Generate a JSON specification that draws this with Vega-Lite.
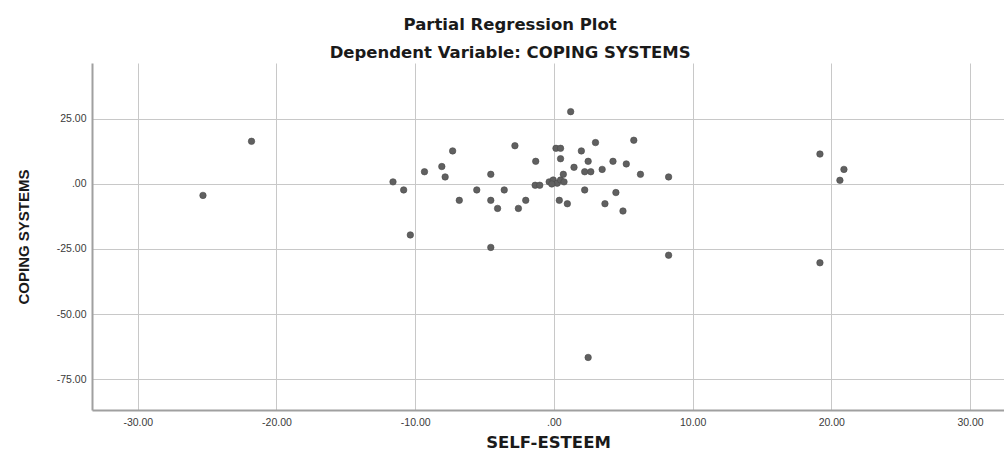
{
  "$schema": "https://vega.github.io/schema/vega-lite/v6.json",
  "autosize": "none",
  "width": 912,
  "height": 347,
  "padding": {"left": 92, "top": 63, "right": 0, "bottom": 45},
  "background": "white",
  "title": {
    "text": "Partial Regression Plot",
    "subtitle": "Dependent Variable: COPING SYSTEMS",
    "anchor": "middle",
    "frame": "bounds",
    "font": "DejaVu Sans",
    "fontSize": 16.5,
    "fontWeight": "bold",
    "color": "#1a1a1a",
    "subtitleFont": "DejaVu Sans",
    "subtitleFontSize": 16.5,
    "subtitleFontWeight": "bold",
    "subtitleColor": "#1a1a1a",
    "subtitlePadding": 11,
    "offset": 4,
    "dy": 2
  },
  "config": {
    "view": {"stroke": null},
    "axis": {
      "labelFont": "Liberation Sans",
      "labelFontSize": 10.5,
      "labelColor": "#3a3a3a",
      "titleFont": "DejaVu Sans",
      "titleFontWeight": "bold",
      "titleColor": "#1a1a1a",
      "gridColor": "#c8c8c8",
      "gridWidth": 1,
      "domainColor": "#a0a0a0",
      "domainWidth": 2,
      "ticks": false
    }
  },
  "data": {
    "values": [
      {"x": 1.21, "y": 27.8},
      {"x": -11.6, "y": 0.8},
      {"x": -10.83, "y": -2.3},
      {"x": -7.3, "y": 12.7},
      {"x": -9.33, "y": 4.7},
      {"x": -8.08, "y": 6.7},
      {"x": -7.84, "y": 2.7},
      {"x": -10.35, "y": -19.6},
      {"x": -6.82, "y": -6.3},
      {"x": -5.56, "y": -2.3},
      {"x": -4.55, "y": 3.7},
      {"x": -4.55, "y": -6.3},
      {"x": -4.06, "y": -9.4},
      {"x": -3.58, "y": -2.3},
      {"x": -2.81, "y": 14.7},
      {"x": -2.56, "y": -9.4},
      {"x": -2.03, "y": -6.3},
      {"x": -4.55, "y": -24.4},
      {"x": -1.31, "y": 8.7},
      {"x": -1.35, "y": -0.5},
      {"x": -1.02, "y": -0.5},
      {"x": -0.34, "y": 0.8},
      {"x": -0.05, "y": 1.5},
      {"x": 0.24, "y": 0.3},
      {"x": 0.48, "y": 1.5},
      {"x": 0.68, "y": 3.7},
      {"x": 0.15, "y": 13.7},
      {"x": 0.48, "y": 13.7},
      {"x": 0.48, "y": 9.7},
      {"x": 0.39, "y": -6.3},
      {"x": 0.97, "y": -7.6},
      {"x": 1.45, "y": 6.4},
      {"x": 1.98, "y": 12.7},
      {"x": 2.22, "y": 4.7},
      {"x": 2.66, "y": 4.7},
      {"x": 2.47, "y": 8.7},
      {"x": 2.22, "y": -2.3},
      {"x": 3.0, "y": 15.9},
      {"x": 3.48, "y": 5.6},
      {"x": 4.26, "y": 8.7},
      {"x": 3.68, "y": -7.6},
      {"x": 4.47, "y": -3.3},
      {"x": 4.98, "y": -10.4},
      {"x": 5.22, "y": 7.7},
      {"x": 5.76, "y": 16.8},
      {"x": 6.24, "y": 3.7},
      {"x": 8.27, "y": 2.7},
      {"x": 8.27, "y": -27.4},
      {"x": -0.15, "y": 0.0},
      {"x": 0.73, "y": 0.8},
      {"x": -21.8, "y": 16.4},
      {"x": -25.3, "y": -4.4},
      {"x": 2.47, "y": -66.7},
      {"x": 19.18, "y": 11.5},
      {"x": 20.91, "y": 5.6},
      {"x": 20.62, "y": 1.4},
      {"x": 19.18, "y": -30.3}
    ]
  },
  "mark": {"type": "point", "filled": true, "shape": "circle", "size": 42, "color": "#606060", "opacity": 1, "stroke": "#4a4a4a", "strokeWidth": 0.6},
  "encoding": {
    "x": {
      "field": "x",
      "type": "quantitative",
      "scale": {"domain": [-33.3, 32.45], "nice": false, "zero": false},
      "axis": {
        "title": "SELF-ESTEEM",
        "titleFontSize": 16.5,
        "titlePadding": 7,
        "values": [-30, -20, -10, 0, 10, 20, 30],
        "labelExpr": "datum.value == 0 ? '.00' : (datum.value < 0 ? '-' : '') + format(abs(datum.value), '.2f')",
        "labelPadding": 7,
        "grid": true
      }
    },
    "y": {
      "field": "y",
      "type": "quantitative",
      "scale": {"domain": [-86.9, 46.5], "nice": false, "zero": false},
      "axis": {
        "title": "COPING SYSTEMS",
        "titleFont": "Liberation Sans",
        "titleFontSize": 15,
        "titlePadding": 25,
        "values": [-75, -50, -25, 0, 25],
        "labelExpr": "datum.value == 0 ? '.00' : (datum.value < 0 ? '-' : '') + format(abs(datum.value), '.2f')",
        "labelPadding": 6,
        "grid": true
      }
    }
  }
}
